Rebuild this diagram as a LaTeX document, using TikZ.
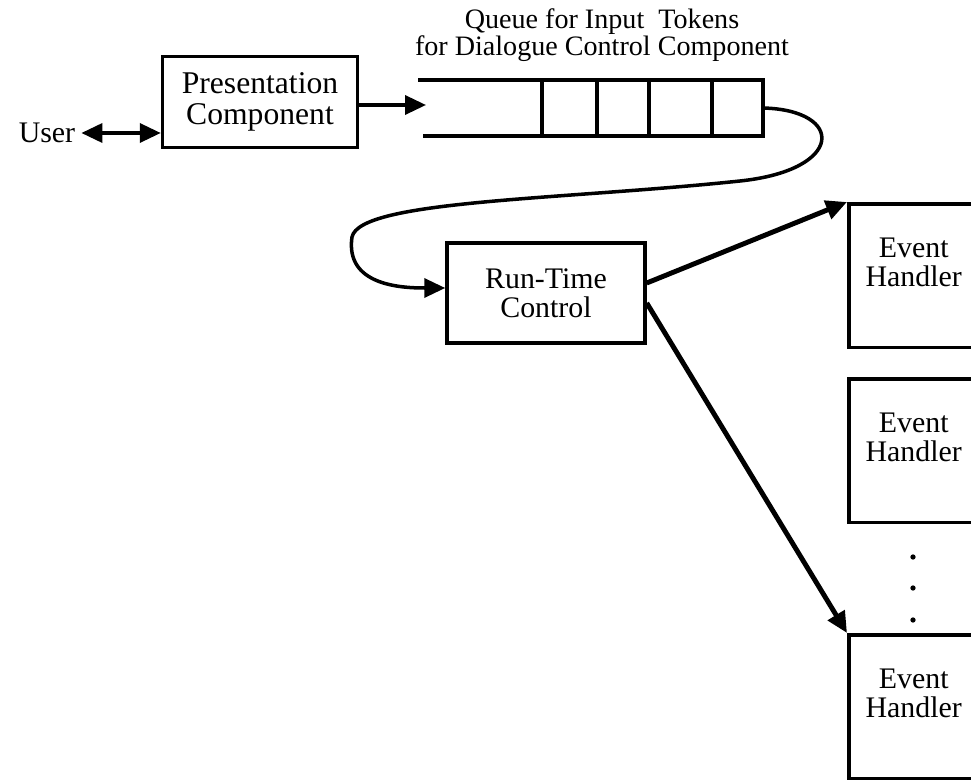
\documentclass[tikz,border=0pt]{standalone}
\usepackage{fontspec}
\setmainfont{Liberation Serif}
\usetikzlibrary{arrows.meta}
\tikzset{
  block/.style={draw, line width=2pt, align=center, inner sep=2pt},
  handler/.style={draw, line width=2pt, minimum width=2.6cm, minimum height=2.88cm},
  tip/.tip={Triangle[length=0.42cm, width=0.38cm]},
  conn/.style={line width=2pt, -tip},
  fatconn/.style={line width=2.8pt, -tip},
}

\begin{document}
\begin{tikzpicture}[x=0.02cm, y=-0.02cm, every node/.style={font=\fontsize{17}{16.5}\selectfont}]
  \useasboundingbox (0,0) rectangle (971,780);
  \clip (0,0) rectangle (971,780);
  % user and presentation
  \node (user) at (47,133) {User};
  \node[block, minimum width=3.9cm, minimum height=1.82cm, font=\fontsize{18}{17.5}\selectfont] (pres) at (260,102) {Presentation\\Component};
  \draw[conn, tip-tip] (user.east) -- (user.east -| pres.west);
  % queue of input tokens
  \coordinate (qin) at (426,105);
  \coordinate (qout) at (763,108);
  \draw[line width=2pt] (418,80) -- (763,80) -- (763,136) -- (423,136);
  \foreach \x in {542,597,649,712}
    \draw[line width=2pt] (\x,80) -- (\x,136);
  \node[align=center, font=\fontsize{16}{15.5}\selectfont] (qlabel) at (602,35) {Queue for Input~ Tokens\\for Dialogue Control Component};
  \draw[conn] (pres.east |- qin) -- (qin);
  % run-time control
  \node[block, minimum width=3.96cm, minimum height=2cm] (rtc) at (546,293) {Run-Time\\Control};
  \draw[conn] (qout) .. controls (845,110) and (845,170) .. (740,181)
    .. controls (560,200) and (360,200) .. (352,237)
    .. controls (345,285) and (400,288) .. ([yshift=0.1cm]rtc.west);
  % event handlers
  \foreach \n/\y in {1/202, 2/377, 3/633} {
    \node[handler, anchor=north west] (eh\n) at (847,\y) {};
    \node[align=center] (evt\n) at ([yshift=-1.2cm]eh\n.north) {Event\\Handler};
  }
  \foreach \y in {557,588,620}
    \fill (913,\y) circle (1.5pt);
  \draw[fatconn] ([yshift=0.2cm]rtc.east) -- (eh1.north west);
  \draw[fatconn] ([yshift=-0.2cm]rtc.east) -- (eh3.north west);
\end{tikzpicture}
\end{document}
